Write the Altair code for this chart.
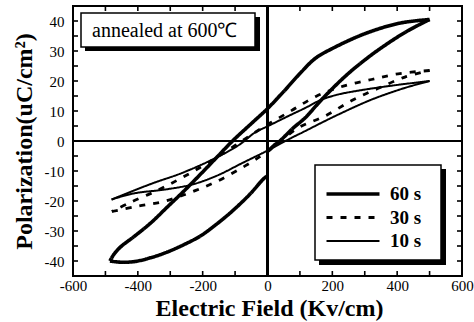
import altair as alt
import pandas as pd

# ---------------- data ----------------
series_names = ["60 s", "30 s", "10 s"]

# 60 s loop (thick)
t60_upper_x = [500, 409, 306, 203, 147, 100, 50, 0, -50, -108, -157, -206, -257, -309, -360, -411, -452, -474, -486]
t60_upper_y = [40.5, 39.3, 36, 31, 27.5, 22.5, 16.5, 10.8, 5.8, 0, -5.5, -11, -16.6, -22, -27.3, -31.8, -35.2, -37.8, -40]
t60_lower1_x = [-486, -452, -411, -360, -309, -257, -206, -157, -108, -54, -13, 0]
t60_lower1_y = [-40, -40.4, -40.2, -38.9, -37, -34.5, -31.6, -27.7, -23.3, -17.7, -12.7, -11.6]
t60_lower2_x = [0, 20, 38, 80, 116, 167, 239, 300, 357, 429, 500]
t60_lower2_y = [-3.5, -1.5, 0, 4.4, 7.7, 13.8, 21.5, 27, 31.5, 36.5, 40.5]

# 30 s loop (dashed)
d30_upper_x = [500, 403, 321, 234, 152, 75, -13, -100, -180, -260, -340, -424, -480]
d30_upper_y = [23.5, 22.4, 20.5, 18.3, 15, 10.2, 4.6, -1.5, -7, -12, -16.5, -20.5, -23.5]
d30_lower_x = [-480, -403, -321, -239, -157, -69, 0, 95, 177, 260, 340, 424, 500]
d30_lower_y = [-23.5, -21.8, -20.2, -17.2, -13.5, -8.3, -3.5, 4.4, 8.3, 13.5, 17.5, 21.3, 23.5]

# 10 s loop (thin)
s10_upper_x = [500, 373, 270, 218, 167, 116, 64, 2, -39, -85, -157, -260, -362, -481]
s10_upper_y = [20, 18.3, 16.6, 15.5, 13.8, 11, 8.3, 5, 2.8, -1.1, -5.5, -10.5, -14.4, -19.5]
s10_lower_x = [-481, -414, -311, -229, -157, -75, -2, 75, 116, 167, 218, 321, 424, 500]
s10_lower_y = [-19.5, -17.5, -16.1, -14.4, -11.6, -7.2, -3.3, 1.1, 3.3, 6.1, 8.8, 13.8, 17.7, 20]

x_label_values = [-600, -400, -200, 0, 200, 400, 600]
y_label_values = [-40, -30, -20, -10, 0, 10, 20, 30, 40]
x_tick_values = [-500, -400, -300, -200, -100, 0, 100, 200, 300, 400, 500]
y_tick_values = [-40, -35, -30, -25, -20, -15, -10, -5, 0, 5, 10, 15, 20, 25, 30, 35, 40]

annotation_text = ["annealed at 600\u2103"]

# ---------------- build tables ----------------
rows = []
def add(series, piece, xs, ys):
    for i, (xv, yv) in enumerate(zip(xs, ys)):
        rows.append({"series": series, "piece": piece, "x": xv, "y": yv, "ord": i})

add("60 s", "60u", t60_upper_x, t60_upper_y)
add("60 s", "60l1", t60_lower1_x, t60_lower1_y)
add("60 s", "60l2", t60_lower2_x, t60_lower2_y)
add("30 s", "30u", d30_upper_x, d30_upper_y)
add("30 s", "30l", d30_lower_x, d30_lower_y)
add("10 s", "10u", s10_upper_x, s10_upper_y)
add("10 s", "10l", s10_lower_x, s10_lower_y)
df = pd.DataFrame(rows)
# tick tables use the same field names as the curves so the axes merge
xt_df = pd.DataFrame({"x": x_tick_values})
yt_df = pd.DataFrame({"y": y_tick_values})

FONT = "Liberation Serif"
W, H = 389, 270
TK = 5

xscale = alt.Scale(domain=[-600, 600], nice=False, zero=False)
yscale = alt.Scale(domain=[-45, 45], nice=False, zero=False)

x_axis = alt.Axis(
    orient="bottom", values=x_label_values, title="Electric Field (Kv/cm)",
    grid=False, domain=False, ticks=False, tickSize=0, labelPadding=2,
    labelFlush=False, labelOverlap=False,
    labelFont=FONT, labelFontSize=15, labelColor="black",
    labelExpr="'' + datum.value",
    titleFont=FONT, titleFontSize=24, titleFontWeight="bold", titleColor="black",
    titleX=196, titleY=39, titleBaseline="alphabetic")
y_axis = alt.Axis(
    orient="left", values=y_label_values, title="Polarization(uC/cm\u00b2)",
    grid=False, domain=False, ticks=False, tickSize=0, labelPadding=9,
    labelFlush=False, labelOverlap=False,
    labelFont=FONT, labelFontSize=15, labelColor="black",
    labelExpr="'' + datum.value",
    titleFont=FONT, titleFontSize=24, titleFontWeight="bold", titleColor="black",
    titleAngle=270, titleX=-42, titleY=135, titleAlign="center",
    titleBaseline="alphabetic")

legend_cfg = dict(
    orient="none", legendX=250, legendY=177, title=None,
    symbolType="M-3,0H3", symbolSize=312, symbolStrokeColor="black",
    symbolFillColor="transparent", symbolOffset=19, labelOffset=26,
    labelFont=FONT, labelFontSize=19, labelFontWeight="bold", labelColor="black",
    rowPadding=3, padding=0,
)

lines = alt.Chart(df).mark_line(interpolate="catmull-rom", color="black").encode(
    x=alt.X("x:Q", scale=xscale, axis=x_axis),
    y=alt.Y("y:Q", scale=yscale, axis=y_axis),
    detail="piece:N",
    order="ord:Q",
    strokeDash=alt.StrokeDash("series:N", scale=alt.Scale(
        domain=series_names, range=[[1, 0], [6, 8], [1, 0]]), legend=alt.Legend(**legend_cfg)),
    strokeWidth=alt.StrokeWidth("series:N", scale=alt.Scale(
        domain=series_names, range=[3.6, 2.0, 1.3]), legend=alt.Legend(**legend_cfg)),
)

# inward ticks on all four edges
tick_style = dict(color="black", strokeWidth=1.6)
ticks_bottom = alt.Chart(xt_df).mark_rule(**tick_style).encode(
    x=alt.X("x:Q", scale=xscale, axis=x_axis), y=alt.value(H), y2=alt.value(H - TK))
ticks_top = alt.Chart(xt_df).mark_rule(**tick_style).encode(
    x=alt.X("x:Q", scale=xscale, axis=x_axis), y=alt.value(0), y2=alt.value(TK))
ticks_left = alt.Chart(yt_df).mark_rule(**tick_style).encode(
    y=alt.Y("y:Q", scale=yscale, axis=y_axis), x=alt.value(0), x2=alt.value(TK))
ticks_right = alt.Chart(yt_df).mark_rule(**tick_style).encode(
    y=alt.Y("y:Q", scale=yscale, axis=y_axis), x=alt.value(W), x2=alt.value(W - TK))

zero_v = alt.Chart(xt_df).mark_rule(color="black", strokeWidth=1.8).encode(
    x=alt.XDatum(0, scale=xscale, axis=x_axis))
zero_h = alt.Chart(yt_df).mark_rule(color="black", strokeWidth=1.8).encode(
    y=alt.YDatum(0, scale=yscale, axis=y_axis))

anno_df = pd.DataFrame({"label": annotation_text})
anno_shadow = alt.Chart(anno_df).mark_rect(color="black").encode(
    x=alt.value(12), x2=alt.value(187), y=alt.value(11), y2=alt.value(45))
anno_box = alt.Chart(anno_df).mark_rect(fill="white", stroke="black", strokeWidth=1.5).encode(
    x=alt.value(8), x2=alt.value(182), y=alt.value(7), y2=alt.value(41))
anno_text = alt.Chart(anno_df).mark_text(
    align="left", baseline="alphabetic", font=FONT, fontSize=20, color="black").encode(
    x=alt.value(19), y=alt.value(31), text="label:N")

leg_shadow = alt.Chart(anno_df).mark_rect(color="black").encode(
    x=alt.value(246), x2=alt.value(373), y=alt.value(163), y2=alt.value(259))
leg_box = alt.Chart(anno_df).mark_rect(fill="white", stroke="black", strokeWidth=1.5).encode(
    x=alt.value(242), x2=alt.value(368), y=alt.value(159), y2=alt.value(254))

chart = alt.layer(
    zero_v, zero_h, ticks_bottom, ticks_top, ticks_left, ticks_right, lines,
    anno_shadow, anno_box, anno_text, leg_shadow, leg_box,
).properties(
    width=W, height=H,
    autosize=alt.AutoSizeParams(type="none"),
    padding={"left": 73, "top": 6, "right": 12, "bottom": 46},
    background="white",
).configure_view(stroke="black", strokeWidth=2)

chart.save("out.html", embed_options={"renderer": "svg", "actions": False})
